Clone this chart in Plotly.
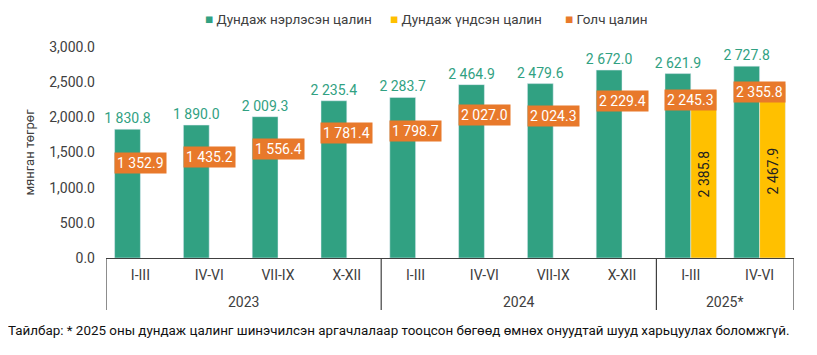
import plotly.graph_objects as go

years = ["2023"] * 4 + ["2024"] * 4 + ["2025*"] * 2
quarters = ["I-III", "IV-VI", "VII-IX", "X-XII", "I-III", "IV-VI", "VII-IX", "X-XII", "I-III", "IV-VI"]
nominal = [1830.8, 1890.0, 2009.3, 2235.4, 2283.7, 2464.9, 2479.6, 2672.0, 2621.9, 2727.8]
basic = [None, None, None, None, None, None, None, None, 2385.8, 2467.9]
median = [1352.9, 1435.2, 1556.4, 1781.4, 1798.7, 2027.0, 2024.3, 2229.4, 2245.3, 2355.8]
y_ticks = [0, 500, 1000, 1500, 2000, 2500, 3000]
series_names = ["Дундаж нэрлэсэн цалин", "Дундаж үндсэн цалин", "Голч цалин"]

GREEN = "#31A182"
YELLOW = "#FFC000"
ORANGE = "#E8792B"
AXIS = "#404040"
FONT = "Roboto"
COLORS = [GREEN, YELLOW, ORANGE]
LEGEND_X = [97, 282, 457]  # px from plot left where each legend entry starts


def fmt(v):
    return "" if v is None else f"{v:,.1f}".replace(",", " ")


pos = list(range(len(quarters)))

fig = go.Figure()
fig.add_trace(go.Bar(
    x=pos, y=nominal, name=series_names[0], marker_color=GREEN,
    text=[fmt(v) for v in nominal], textposition="outside", constraintext="none",
    textfont=dict(color=GREEN, size=14, family=FONT), cliponaxis=False,
))
fig.add_trace(go.Bar(
    x=pos, y=basic, name=series_names[1], marker_color=YELLOW,
    text=[fmt(v) for v in basic], textposition="inside", textangle=-90,
    insidetextanchor="middle", constraintext="none",
    textfont=dict(color="#222222", size=14, family=FONT),
))
fig.add_trace(go.Scatter(
    x=pos, y=median, name=series_names[2], mode="markers",
    marker=dict(symbol="square", color=ORANGE, size=9),
))

# median value boxes
for i, v in zip(pos, median):
    fig.add_annotation(
        x=i, y=v, xref="x", yref="y", text=fmt(v), showarrow=False,
        bgcolor=ORANGE, font=dict(color="white", size=14, family=FONT),
        borderpad=2, xanchor="center", yanchor="middle",
    )

# year group labels and dividers
groups = []
for i, yr in enumerate(years):
    if not groups or groups[-1][0] != yr:
        groups.append([yr, i, i])
    else:
        groups[-1][2] = i
bounds = [groups[0][1] - 0.5] + [g[2] + 0.5 for g in groups]
for yr, a, b in groups:
    fig.add_annotation(
        x=(a + b) / 2, xref="x", y=0, yref="paper", yshift=-44, yanchor="middle",
        text=yr, showarrow=False, font=dict(size=14, color=AXIS, family=FONT),
    )
for bx in bounds:
    fig.add_shape(
        type="line", xref="x", yref="paper", x0=bx, x1=bx, y0=0, y1=-0.2464,
        line=dict(color=AXIS, width=1.2),
    )

# legend row
for name, col, lx in zip(series_names, COLORS, LEGEND_X):
    fig.add_annotation(
        x=0, xref="paper", xshift=lx, xanchor="left", y=1, yref="paper", yshift=28,
        yanchor="middle", showarrow=False,
        text=f'<span style="color:{col}">■</span> {name}',
        font=dict(size=13.5, color=AXIS, family=FONT),
    )

fig.add_annotation(
    x=0, xref="paper", xanchor="left", xshift=-100, y=0, yref="paper", yshift=-72, yanchor="middle",
    text="Тайлбар: * 2025 оны дундаж цалинг шинэчилсэн аргачлалаар тооцсон бөгөөд өмнөх онуудтай шууд харьцуулах боломжгүй.",
    showarrow=False, font=dict(size=13.4, color="#111111", family=FONT),
)

fig.update_layout(
    width=801, height=339,
    margin=dict(l=98, r=15, t=39, b=89, autoexpand=False),
    paper_bgcolor="white", plot_bgcolor="white",
    barmode="group", bargap=0.25, bargroupgap=0,
    font=dict(family=FONT, size=14, color=AXIS),
    showlegend=False,
)
fig.update_yaxes(
    range=[0, 3000], tickvals=y_ticks, tickformat=",.1f", showgrid=False, zeroline=False,
    showline=False, ticks="", tickfont=dict(size=14, color=AXIS), automargin=False,
    ticklabelstandoff=10,
    title=dict(text="мянган төгрөг", font=dict(size=13, color=AXIS), standoff=11),
)
fig.update_xaxes(
    range=[-0.5, len(quarters) - 0.5], tickvals=pos, ticktext=quarters,
    showline=True, linecolor=AXIS, linewidth=1.2, zeroline=False,
    automargin=False, tickfont=dict(size=14, color=AXIS), showgrid=False, ticks="",
    ticklabelstandoff=4,
)

fig.write_html("out.html")
